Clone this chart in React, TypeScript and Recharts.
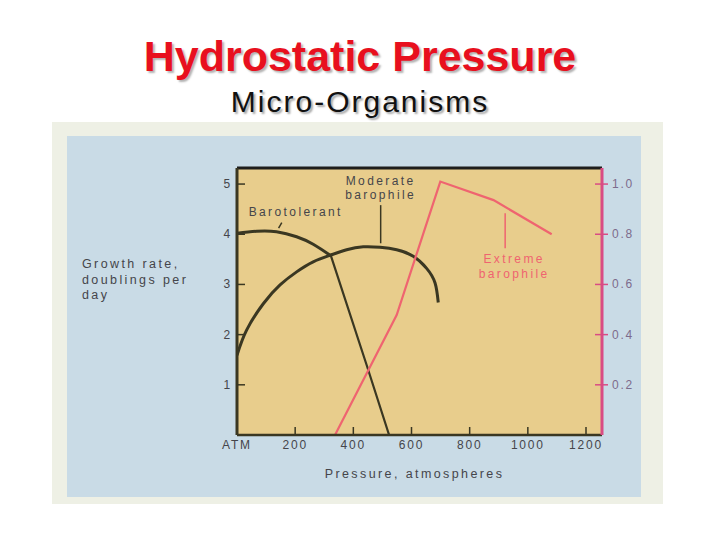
import React from "react"
import { LineChart, Line, XAxis, YAxis, CartesianGrid, ReferenceLine, ReferenceDot } from "recharts"

const pressureTicks = [0, 200, 400, 600, 800, 1000, 1200]
const pressureTickLabels = ["ATM", "200", "400", "600", "800", "1000", "1200"]
const growthTicks = [1, 2, 3, 4, 5]
const extremeTicks = [0.2, 0.4, 0.6, 0.8, 1.0]

// barotolerant: rounded top, then a straight drop
const barotolerantTop = [
  { p: 0, v: 4.02 },
  { p: 68, v: 4.06 },
  { p: 136, v: 4.05 },
  { p: 205, v: 3.95 },
  { p: 262, v: 3.8 },
  { p: 323, v: 3.57 },
]
const barotolerantDrop = [
  { p: 323, v: 3.57 },
  { p: 446, v: 1.39 },
  { p: 523, v: 0 },
]
const moderateBarophile = [
  { p: 0, v: 1.59 },
  { p: 33, v: 2.09 },
  { p: 91, v: 2.62 },
  { p: 148, v: 2.99 },
  { p: 205, v: 3.25 },
  { p: 262, v: 3.45 },
  { p: 320, v: 3.58 },
  { p: 377, v: 3.69 },
  { p: 434, v: 3.75 },
  { p: 492, v: 3.74 },
  { p: 549, v: 3.69 },
  { p: 606, v: 3.56 },
  { p: 652, v: 3.32 },
  { p: 681, v: 3.03 },
  { p: 692, v: 2.64 },
]
// read against the right-hand axis
const extremeBarophile = [
  { p: 337, r: 0 },
  { p: 549, r: 0.478 },
  { p: 699, r: 1.01 },
  { p: 882, r: 0.936 },
  { p: 1082, r: 0.8 },
]

const cream = "#eef0e5"
const blue = "#c9dbe6"
const plotFill = "#e8cd8c"
const ink = "#3a3722"
const pink = "#ef6470"
const axisPink = "#d94c84"
const textGray = "#45454a"
const rightText = "#7d6b8c"
const font = "'Liberation Sans', Arial, sans-serif"

const tickText = { fontFamily: font, fontSize: 12, letterSpacing: 1.8, fill: textGray }
const noteText = { fontFamily: font, fontSize: 12, letterSpacing: 2.4 }

function BottomTick(props: any) {
  const { x, y, payload } = props
  const i = pressureTicks.indexOf(payload.value)
  return (
    <g>
      {payload.value !== 0 && <line x1={x} x2={x} y1={y} y2={y - 8} stroke={ink} strokeWidth={1.5} />}
      <text x={x} y={y + 14} textAnchor="middle" {...tickText}>
        {pressureTickLabels[i]}
      </text>
    </g>
  )
}

function LeftTick(props: any) {
  const { x, y, payload } = props
  return (
    <g>
      <line x1={x + 5} x2={x + 13} y1={y} y2={y} stroke={ink} strokeWidth={1.5} />
      <text x={x} y={y} textAnchor="end" dominantBaseline="central" {...tickText}>
        {payload.value}
      </text>
    </g>
  )
}

function RightTick(props: any) {
  const { x, y, payload } = props
  return (
    <g>
      <line x1={x - 17} x2={x - 4} y1={y} y2={y} stroke={axisPink} strokeWidth={1.5} />
      <text x={x} y={y} textAnchor="start" dominantBaseline="central" {...tickText} fill={rightText}>
        {payload.value.toFixed(1)}
      </text>
    </g>
  )
}

export default function App() {
  return (
    <div style={{ position: "fixed", left: 0, top: 0, width: 720, height: 540, background: "#ffffff", overflow: "hidden" }}>
      <div
        style={{
          position: "absolute", left: 0, top: 35, width: 720, textAlign: "center",
          fontFamily: font, fontWeight: "bold", fontSize: 43, lineHeight: "43px", color: "#e8101e",
          textShadow: "2px 2px 2px rgba(0,0,0,0.3)",
        }}
      >
        Hydrostatic Pressure
      </div>
      <div
        style={{
          position: "absolute", left: 0, top: 87, width: 720, textAlign: "center",
          fontFamily: font, fontSize: 30, lineHeight: "30px", letterSpacing: 2, color: "#111111",
          textShadow: "2px 2px 2px rgba(0,0,0,0.35)",
        }}
      >
        Micro-Organisms
      </div>
      <div style={{ position: "absolute", left: 52, top: 122, width: 611, height: 382, background: cream }} />
      <div style={{ position: "absolute", left: 67, top: 136, width: 574, height: 361, background: blue }} />
      <div
        style={{
          position: "absolute", left: 82, top: 257, fontFamily: font, fontSize: 12.5,
          lineHeight: "15.5px", letterSpacing: 2.4, color: textGray,
        }}
      >
        Growth rate,
        <br />
        doublings per
        <br />
        day
      </div>
      <div style={{ position: "absolute", left: 0, top: 0 }}>
        <LineChart width={720} height={540} margin={{ top: 168, right: 78, bottom: 55, left: 197 }}>
          <CartesianGrid yAxisId="l" horizontal={false} vertical={false} fill={plotFill} />
          <XAxis
            dataKey="p"
            type="number"
            domain={[0, 1255]}
            allowDataOverflow
            ticks={pressureTicks}
            interval={0}
            height={50}
            axisLine={{ stroke: ink, strokeWidth: 2.5 }}
            tickLine={false}
            tickSize={0}
            tickMargin={0}
            tick={BottomTick}
            label={{ value: "Pressure, atmospheres", position: "insideBottom", offset: 7, dx: -5, ...noteText, fontSize: 12.5, fill: textGray }}
          />
          <YAxis
            yAxisId="l"
            type="number"
            domain={[0, 5.32]}
            allowDataOverflow
            ticks={growthTicks}
            interval={0}
            width={40}
            axisLine={{ stroke: ink, strokeWidth: 3 }}
            tickLine={false}
            tickSize={0}
            tickMargin={5}
            tick={LeftTick}
          />
          <YAxis
            yAxisId="r"
            orientation="right"
            type="number"
            domain={[0, 1.064]}
            allowDataOverflow
            ticks={extremeTicks}
            interval={0}
            width={40}
            axisLine={{ stroke: axisPink, strokeWidth: 3 }}
            tickLine={false}
            tickSize={0}
            tickMargin={10}
            tick={RightTick}
          />
          <ReferenceLine yAxisId="l" y={5.32} stroke="#1e1e1c" strokeWidth={3} ifOverflow="visible" />

          <ReferenceLine yAxisId="l" segment={[{ x: 494, y: 4.58 }, { x: 494, y: 3.82 }]} stroke={ink} strokeWidth={1.5} />
          <ReferenceLine yAxisId="l" segment={[{ x: 154, y: 4.23 }, { x: 143, y: 4.12 }]} stroke={ink} strokeWidth={1.5} />
          <ReferenceLine yAxisId="l" segment={[{ x: 922, y: 4.42 }, { x: 922, y: 3.72 }]} stroke={pink} strokeWidth={1.5} />

          <ReferenceDot yAxisId="l" x={494} y={5.06} r={0} fill="none" stroke="none"
            label={{ value: "Moderate", position: "center", ...noteText, fill: textGray }} />
          <ReferenceDot yAxisId="l" x={494} y={4.78} r={0} fill="none" stroke="none"
            label={{ value: "barophile", position: "center", ...noteText, fill: textGray }} />
          <ReferenceDot yAxisId="l" x={202} y={4.45} r={0} fill="none" stroke="none"
            label={{ value: "Barotolerant", position: "center", ...noteText, fill: textGray }} />
          <ReferenceDot yAxisId="l" x={953} y={3.51} r={0} fill="none" stroke="none"
            label={{ value: "Extreme", position: "center", ...noteText, fill: pink }} />
          <ReferenceDot yAxisId="l" x={953} y={3.22} r={0} fill="none" stroke="none"
            label={{ value: "barophile", position: "center", ...noteText, fill: pink }} />

          <Line yAxisId="l" data={barotolerantTop} dataKey="v" type="natural" stroke={ink} strokeWidth={3} dot={false} isAnimationActive={false} />
          <Line yAxisId="l" data={barotolerantDrop} dataKey="v" type="linear" stroke={ink} strokeWidth={2.2} dot={false} isAnimationActive={false} />
          <Line yAxisId="l" data={moderateBarophile} dataKey="v" type="natural" stroke={ink} strokeWidth={3} dot={false} isAnimationActive={false} />
          <Line yAxisId="r" data={extremeBarophile} dataKey="r" type="linear" stroke={pink} strokeWidth={2.2} dot={false} isAnimationActive={false} />
        </LineChart>
      </div>
    </div>
  )
}
